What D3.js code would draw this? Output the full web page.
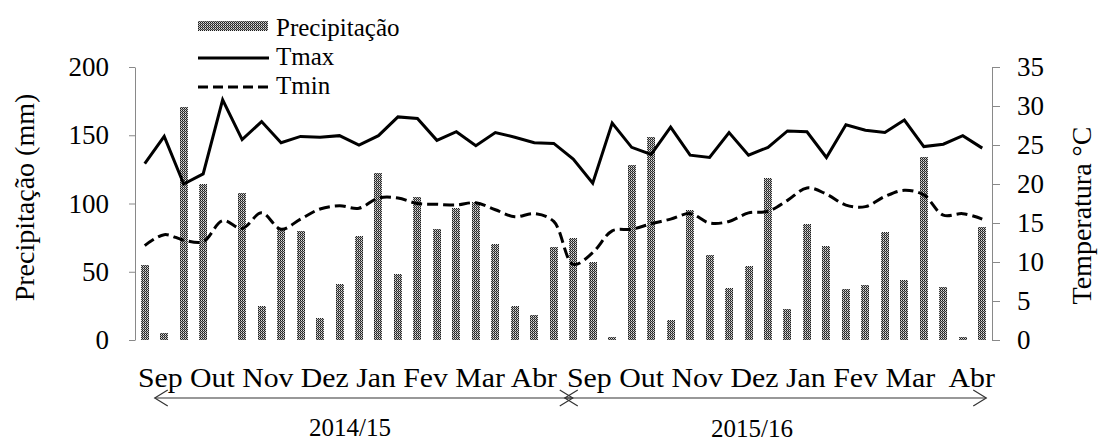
<!DOCTYPE html>
<html>
<head>
<meta charset="utf-8">
<script src="https://cdn.jsdelivr.net/npm/d3@7"></script>
<style>
  html, body { margin: 0; padding: 0; background: #fff; }
  svg { display: block; }
  text { font-family: "Liberation Serif", "Times New Roman", serif; fill: #000; }
</style>
</head>
<body>
<svg id="chart" width="1103" height="442"></svg>
<script>
// ---- data (10-day periods, Sep–Abr of two seasons) ----
const precipitacao = [55,5,171,114,0,108,25,82,80,16,41,76,122,48,105,81,97,101,70,25,18,68,
                      75,57,2,128,149,15,95,62,38,54,119,23,85,69,37,40,79,44,134,39,2,83];
const tmax = [22.6,26.1,20.0,21.3,30.8,25.7,28.0,25.3,26.1,26.0,26.2,25.0,26.2,28.6,28.4,25.6,26.7,24.9,26.6,26.0,25.3,25.2,
              23.2,20.1,27.8,24.7,23.8,27.3,23.7,23.4,26.6,23.7,24.7,26.8,26.7,23.4,27.6,26.9,26.6,28.2,24.8,25.1,26.2,24.6];
const tmin = [12.1,13.5,12.8,12.6,15.3,14.3,16.3,14.2,15.5,16.8,17.2,16.9,18.2,18.2,17.5,17.4,17.3,17.6,16.7,15.8,16.2,15.2,
              9.7,11.2,14.0,14.2,14.9,15.5,16.2,15.0,15.2,16.3,16.5,17.9,19.5,18.7,17.3,17.1,18.4,19.2,18.6,16.0,16.2,15.5];
const monthLabels1 = "Sep Out Nov Dez Jan Fev Mar Abr";
const monthLabels2 = "Sep Out Nov Dez Jan Fev Mar  Abr";
const seasons = ["2014/15", "2015/16"];
const precipTicks = [0, 50, 100, 150, 200];
const tempTicks = [0, 5, 10, 15, 20, 25, 30, 35];
const legendLabels = ["Precipitação", "Tmax", "Tmin"];

const svg = d3.select("#chart");
const L = 135, R = 992, T = 67, B = 340;
const idx = d3.range(precipitacao.length);

const x = d3.scaleBand().domain(idx).range([L, R]).paddingInner(0.59).paddingOuter(0.295);
const xc = i => x(i) + x.bandwidth() / 2;
const yP = d3.scaleLinear().domain([0, 200]).range([B, T]);
const yT = d3.scaleLinear().domain([0, 35]).range([B, T]);

// dotted pattern for bars
const defs = svg.append("defs");
const pat = defs.append("pattern").attr("id", "dots").attr("patternUnits", "userSpaceOnUse")
  .attr("width", 2).attr("height", 2);
pat.append("rect").attr("width", 2).attr("height", 2).attr("fill", "#9a9a9a");
pat.append("rect").attr("x", 0).attr("y", 0).attr("width", 1).attr("height", 1).attr("fill", "#1a1a1a");
pat.append("rect").attr("x", 1).attr("y", 1).attr("width", 1).attr("height", 1).attr("fill", "#3a3a3a");
pat.append("rect").attr("x", 1).attr("y", 0).attr("width", 1).attr("height", 1).attr("fill", "#e0e0e0");

// axes
const axisColor = "#898989";
const gl = svg.append("g").attr("transform", `translate(${L},0)`)
  .call(d3.axisLeft(yP).tickValues(precipTicks).tickSize(6).tickPadding(20).tickSizeOuter(0));
const gr = svg.append("g").attr("transform", `translate(${R},0)`)
  .call(d3.axisRight(yT).tickValues(tempTicks).tickSize(8).tickPadding(17).tickSizeOuter(0));
[gl, gr].forEach(g => {
  g.attr("font-family", null);
  g.selectAll("path, line").attr("stroke", axisColor).attr("stroke-width", 1);
  g.selectAll("text").style("font-size", "27px").style("font-family", '"Liberation Serif", serif');
});

// axis titles
svg.append("text").attr("transform", `translate(34,${(T + B) / 2 - 6}) rotate(-90)`)
  .attr("text-anchor", "middle").style("font-size", "28px").text("Precipitação (mm)");
svg.append("text").attr("transform", `translate(1091,${(T + B) / 2 + 12}) rotate(-90)`)
  .attr("text-anchor", "middle").style("font-size", "28px").text("Temperatura °C");

// bars
svg.append("g").selectAll("rect").data(idx).join("rect")
  .attr("x", i => Math.round(x(i))).attr("width", Math.round(x.bandwidth()))
  .attr("y", i => Math.round(yP(precipitacao[i]))).attr("height", i => B - Math.round(yP(precipitacao[i])))
  .attr("fill", "url(#dots)");

// lines
svg.append("path").datum(idx)
  .attr("d", d3.line().x(xc).y(i => yT(tmax[i])))
  .attr("fill", "none").attr("stroke", "#000").attr("stroke-width", 3).attr("stroke-linejoin", "miter");
svg.append("path").datum(idx)
  .attr("d", d3.line().x(xc).y(i => yT(tmin[i])).curve(d3.curveCatmullRom.alpha(0.5)))
  .attr("fill", "none").attr("stroke", "#000").attr("stroke-width", 3).attr("stroke-dasharray", "11,5");

// legend
const lg = svg.append("g");
lg.append("rect").attr("x", 198).attr("y", 21).attr("width", 70).attr("height", 10).attr("fill", "url(#dots)");
lg.append("line").attr("x1", 198).attr("x2", 269).attr("y1", 58).attr("y2", 58)
  .attr("stroke", "#000").attr("stroke-width", 3);
lg.append("line").attr("x1", 198).attr("x2", 269).attr("y1", 87).attr("y2", 87)
  .attr("stroke", "#000").attr("stroke-width", 3).attr("stroke-dasharray", "10,5");
lg.selectAll("text").data(legendLabels).join("text")
  .attr("x", 276).attr("y", (d, i) => 36 + i * 29).style("font-size", "25px").text(d => d);

// month labels
svg.append("text").attr("x", 138).attr("y", 387).style("font-size", "28px").style("white-space", "pre")
  .attr("textLength", 419).attr("lengthAdjust", "spacingAndGlyphs").text(monthLabels1);
svg.append("text").attr("x", 567).attr("y", 387).style("font-size", "28px").style("white-space", "pre")
  .attr("textLength", 428).attr("lengthAdjust", "spacingAndGlyphs").text(monthLabels2);

// season arrows
const arrowY = 398;
function arrow(x1, x2) {
  const g = svg.append("g").attr("stroke", "#333").attr("stroke-width", 1.2).attr("fill", "none");
  g.append("line").attr("x1", x1).attr("x2", x2).attr("y1", arrowY).attr("y2", arrowY);
  g.append("path").attr("d", `M${x1 + 13},${arrowY - 8} L${x1},${arrowY} L${x1 + 13},${arrowY + 8}`);
  g.append("path").attr("d", `M${x2 - 13},${arrowY - 8} L${x2},${arrowY} L${x2 - 13},${arrowY + 8}`);
}
arrow(xc(0) + 10, xc(21) + 19);
arrow(xc(21) + 11, xc(43) + 4);

svg.append("text").attr("x", 350).attr("y", 436).attr("text-anchor", "middle")
  .style("font-size", "25px").text(seasons[0]);
svg.append("text").attr("x", 752).attr("y", 437).attr("text-anchor", "middle")
  .style("font-size", "25px").text(seasons[1]);
</script>
</body>
</html>
